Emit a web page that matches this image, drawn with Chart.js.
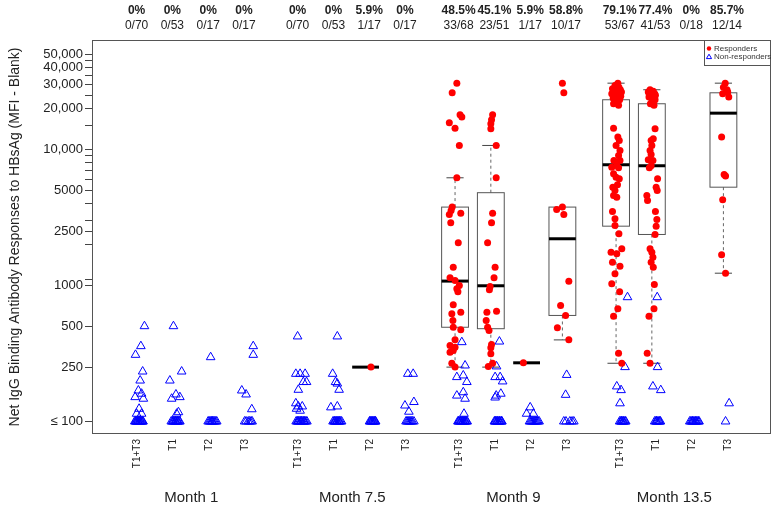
<!DOCTYPE html>
<html>
<head>
<meta charset="utf-8">
<title>Net IgG binding antibody responses to HBsAg</title>
<script src="https://cdn.jsdelivr.net/npm/chart.js"></script>
<style>
  html, body { margin: 0; padding: 0; background: #fff; }
  canvas { display: block; }
</style>
</head>
<body>
<canvas id="chart" width="777" height="512"></canvas>
<script>
// groups: 4 visits x 4 treatment arms
const months = ["Month 1", "Month 7.5", "Month 9", "Month 13.5"];
const categories = ["T1+T3", "T1", "T2", "T3"];

const pctLabels = ["0%", "0%", "0%", "0%", "0%", "0%", "5.9%", "0%",
  "48.5%", "45.1%", "5.9%", "58.8%", "79.1%", "77.4%", "0%", "85.7%"];
const fracLabels = ["0/70", "0/53", "0/17", "0/17", "0/70", "0/53", "1/17", "0/17",
  "33/68", "23/51", "1/17", "10/17", "53/67", "41/53", "0/18", "12/14"];

const yTicks = [100, 250, 500, 1000, 2500, 5000, 10000, 20000, 30000, 40000, 50000];
const yTickLabels = ["\u2264 100", "250", "500", "1000", "2500", "5000",
  "10,000", "20,000", "30,000", "40,000", "50,000"];
const yMinorTicks = [1100, 2000, 3000, 4000, 6000, 7000, 8000, 9000, 15000, 25000, 35000, 45000];

// responders (MFI values) and their horizontal jitter (category units)
const resp_m75_t2 = [251];
const jit_resp_m75_t2 = [0.15];

const resp_m9_t13 = [30700, 26100, 17990, 17300, 15710, 14350, 10700, 6190, 3770, 3560, 3400,
  3330, 2890, 2060, 1364, 1140, 1088, 1000, 946, 900, 721, 636, 619, 553, 494, 472, 399,
  362, 352, 333, 323, 268, 251];
const jit_resp_m9_t13 = [0.05, -0.08, 0.14, 0.19, -0.16, 0, 0.12, 0.05, -0.08, -0.11, 0.16,
  -0.16, -0.12, 0.09, -0.05, -0.14, 0, 0.12, 0.05, 0.08, -0.05, 0.16, -0.09, -0.06, -0.05, 0.16, 0,
  -0.14, 0, -0.05, -0.14, -0.09, 0];

const resp_m9_t1 = [17990, 16520, 15460, 14190, 10700, 6190, 3400, 2890, 2060, 1364, 1140,
  984, 930, 647, 636, 553, 494, 467, 368, 348, 315, 268, 254];
const jit_resp_m9_t1 = [0.05, 0.02, 0, 0, 0.15, 0.15, 0.05, 0.02, -0.09, 0.12, 0.09,
  -0.02, -0.04, 0.16, -0.11, -0.13, -0.09, -0.05, 0.02, 0, 0, 0.05, -0.07];

const resp_m9_t2 = [270];
const jit_resp_m9_t2 = [-0.09];

const resp_m9_t3 = [30700, 26100, 3770, 3620, 3330, 1076, 713, 602, 489, 399];
const jit_resp_m9_t3 = [0, 0.04, 0, -0.16, 0.04, 0.18, -0.05, 0.09, -0.14, 0.18];

const resp_m135_t13 = [30720, 29500, 28700, 28000, 27500, 27000, 26400, 25700, 25200, 25000,
  24600, 24300, 23800, 23200, 22800, 22300, 21700, 21100,
  14340, 12330, 11650, 10700, 9840, 9040, 8300, 8300, 7630, 7410, 7330, 6630, 6260, 6090,
  5500, 5280, 5000, 4590, 4460, 3500, 3093, 2762, 2398, 1862, 1758, 1710, 1484, 1387, 1219,
  1029, 900, 674, 594, 318, 268];
const jit_resp_m135_t13 = [0.05, -0.03, 0.08, -0.10, 0.12, 0, 0.15, -0.12, 0.09, -0.02,
  0.13, 0.06, -0.08, 0.10, -0.04, 0.02, -0.07, 0.07,
  -0.07, 0.05, 0.09, 0, 0.11, 0.07, -0.06, 0.11, 0.02, -0.12, 0.07, -0.07, 0, 0.09,
  0.04, -0.09, -0.03, -0.07, 0.02, -0.10, -0.03, -0.03, 0.08, 0.16, -0.14, 0.02, -0.10, 0.11, -0.03,
  -0.12, 0.10, 0.05, -0.07, 0.07, 0.16];

const resp_m135_t1 = [27480, 26800, 26400, 25700, 25300, 25000, 24300, 24000, 23600, 23200,
  21680, 21100,
  14190, 11990, 11650, 10700, 9840, 9190, 8400, 8300, 7590, 7330, 6090, 5280, 5000, 4590,
  4220, 3500, 3056, 2729, 2371, 1862, 1758, 1615, 1484, 1364, 1017, 674, 594, 318, 268];
const jit_resp_m135_t1 = [-0.05, 0.04, -0.10, 0.08, -0.02, 0.10, -0.08, 0.05, 0, 0.09,
  -0.04, 0.06,
  0.09, 0.04, -0.02, 0, -0.05, -0.02, -0.10, 0.03, -0.02, -0.07, 0.16, 0.12, 0.15, -0.14,
  -0.12, 0.10, 0.14, 0.12, 0.09, -0.05, 0, 0.03, -0.02, 0.04, 0.07, 0.06, -0.08, -0.13, -0.05];

const resp_m135_t3 = [30720, 28700, 27500, 26400, 25700, 24300, 12330, 6550, 6380, 4270, 1681, 1231];
const jit_resp_m135_t3 = [0.05, 0, 0.10, 0.12, -0.02, 0.15, -0.05, 0.02, 0.06, -0.02, -0.05, 0.06];

// non-responders (values <= 100 are shown at 100)
const non_m1_t13 = [502, 358, 309, 233, 200, 169, 160, 151, 147, 124, 114, 114,
  100, 100, 100, 100, 100, 100, 100, 100, 100, 100, 100, 100, 100, 100];
const jit_non_m1_t13 = [0.32, 0.22, 0.07, 0.27, 0.20, 0.15, 0.24, 0.06, 0.29, 0.17, 0.10, 0.24,
  0.05, 0.09, 0.12, 0.16, 0.19, 0.23, 0.27, 0.07, 0.14, 0.21, 0.25, 0.28, 0.10, 0.18];

const non_m1_t1 = [502, 233, 200, 158, 151, 147, 117, 114,
  100, 100, 100, 100, 100, 100, 100, 100, 100, 100, 100, 100];
const jit_non_m1_t1 = [0.13, 0.36, 0.03, 0.20, 0.31, 0.08, 0.27, 0.22,
  0.07, 0.10, 0.14, 0.17, 0.20, 0.23, 0.26, 0.29, 0.31, 0.12, 0.19, 0.25];

const non_m1_t2 = [297, 100, 100, 100, 100, 100, 100, 100, 100, 100, 100];
const jit_non_m1_t2 = [0.17, 0.10, 0.13, 0.16, 0.19, 0.22, 0.25, 0.28, 0.31, 0.34, 0.21];

const non_m1_t3 = [358, 309, 169, 158, 123, 100, 100, 100, 100, 100, 100];
const jit_non_m1_t3 = [0.36, 0.36, 0.04, 0.16, 0.32, 0.12, 0.16, 0.22, 0.26, 0.30, 0.33];

const non_m75_t13 = [422, 224, 224, 224, 195, 195, 171, 136, 129, 129, 124, 120,
  100, 100, 100, 100, 100, 100, 100, 100, 100, 100, 100, 100, 100, 100];
const jit_non_m75_t13 = [0.10, 0.05, 0.17, 0.31, 0.26, 0.35, 0.12, 0.05, 0.12, 0.23, 0.07, 0.17,
  0.06, 0.09, 0.12, 0.15, 0.18, 0.21, 0.24, 0.27, 0.30, 0.33, 0.36, 0.11, 0.20, 0.28];

const non_m75_t1 = [422, 224, 195, 190, 171, 129, 127,
  100, 100, 100, 100, 100, 100, 100, 100, 100, 100, 100, 100];
const jit_non_m75_t1 = [0.21, 0.08, 0.16, 0.21, 0.26, 0.21, 0.03,
  0.09, 0.12, 0.15, 0.18, 0.21, 0.24, 0.27, 0.30, 0.33, 0.14, 0.20, 0.26];

const non_m75_t2 = [100, 100, 100, 100, 100, 100, 100, 100, 100, 100];
const jit_non_m75_t2 = [0.11, 0.13, 0.15, 0.17, 0.19, 0.21, 0.23, 0.25, 0.27, 0.28];

const non_m75_t3 = [224, 224, 139, 131, 118, 100, 100, 100, 100, 100, 100, 100, 100];
const jit_non_m75_t3 = [0.18, 0.33, 0.35, 0.10, 0.21, 0.13, 0.16, 0.19, 0.22, 0.25, 0.28, 0.31, 0.35];

const non_m9_t13 = [383, 258, 218, 212, 195, 164, 155, 147, 114,
  100, 100, 100, 100, 100, 100, 100, 100, 100, 100, 100, 100, 100, 100];
const jit_non_m9_t13 = [0.19, 0.28, 0.23, 0.05, 0.33, 0.23, 0.05, 0.28, 0.25,
  0.08, 0.11, 0.14, 0.17, 0.20, 0.23, 0.26, 0.29, 0.32, 0.10, 0.16, 0.22, 0.28, 0.34];

const non_m9_t1 = [387, 254, 212, 212, 197, 160, 155, 150,
  100, 100, 100, 100, 100, 100, 100, 100, 100, 100, 100, 100];
const jit_non_m9_t1 = [0.24, 0.16, 0.12, 0.26, 0.33, 0.28, 0.15, 0.12,
  0.10, 0.13, 0.16, 0.19, 0.22, 0.25, 0.28, 0.31, 0.12, 0.18, 0.24, 0.30];

const non_m9_t2 = [127, 114, 114, 100, 100, 100, 100, 100, 100, 100, 100, 100, 100];
const jit_non_m9_t2 = [0.10, 0, 0.19, 0.08, 0.11, 0.14, 0.17, 0.20, 0.23, 0.26, 0.29, 0.32, 0.35];

const non_m9_t3 = [220, 157, 100, 100, 100, 100, 100];
const jit_non_m9_t3 = [0.12, 0.09, 0.04, 0.10, 0.21, 0.27, 0.32];

const non_m135_t13 = [820, 251, 181, 170, 136, 100, 100, 100, 100, 100, 100, 100, 100, 100];
const jit_non_m135_t13 = [0.32, 0.25, 0.02, 0.14, 0.11, 0.10, 0.13, 0.16, 0.19, 0.22, 0.25, 0.27, 0.15, 0.20];

const non_m135_t1 = [820, 251, 181, 170, 100, 100, 100, 100, 100, 100, 100, 100];
const jit_non_m135_t1 = [0.15, 0.16, 0.03, 0.25, 0.08, 0.11, 0.14, 0.17, 0.20, 0.22, 0.24, 0.13];

const non_m135_t2 = [100, 100, 100, 100, 100, 100, 100, 100, 100, 100, 100, 100];
const jit_non_m135_t2 = [0.06, 0.09, 0.12, 0.15, 0.18, 0.21, 0.24, 0.27, 0.30, 0.32, 0.14, 0.23];

const non_m135_t3 = [136, 100];
const jit_non_m135_t3 = [0.16, 0.06];

// box plot summaries of responders
const boxMonth = [1, 2, 2, 2, 2, 3, 3, 3];
const boxCat = [2, 0, 1, 2, 3, 0, 1, 3];
const boxLow = [251, 251, 251, 270, 398, 268, 268, 1231];
const boxQ1 = [251, 493, 481, 270, 602, 2729, 2371, 5280];
const boxMed = [251, 1077, 995, 270, 2205, 7720, 7590, 18490];
const boxQ3 = [251, 3770, 4810, 270, 3770, 23200, 21680, 26100];
const boxHigh = [251, 6190, 10700, 270, 3770, 30720, 27480, 30720];

// ---------------------------------------------------------------
const catPos = (m, c) => m * 4.5 + c;

const respGroups = [
  { m: 1, c: 2, v: resp_m75_t2, j: jit_resp_m75_t2 },
  { m: 2, c: 0, v: resp_m9_t13, j: jit_resp_m9_t13 },
  { m: 2, c: 1, v: resp_m9_t1, j: jit_resp_m9_t1 },
  { m: 2, c: 2, v: resp_m9_t2, j: jit_resp_m9_t2 },
  { m: 2, c: 3, v: resp_m9_t3, j: jit_resp_m9_t3 },
  { m: 3, c: 0, v: resp_m135_t13, j: jit_resp_m135_t13 },
  { m: 3, c: 1, v: resp_m135_t1, j: jit_resp_m135_t1 },
  { m: 3, c: 3, v: resp_m135_t3, j: jit_resp_m135_t3 },
];
const nonGroups = [
  { m: 0, c: 0, v: non_m1_t13, j: jit_non_m1_t13 },
  { m: 0, c: 1, v: non_m1_t1, j: jit_non_m1_t1 },
  { m: 0, c: 2, v: non_m1_t2, j: jit_non_m1_t2 },
  { m: 0, c: 3, v: non_m1_t3, j: jit_non_m1_t3 },
  { m: 1, c: 0, v: non_m75_t13, j: jit_non_m75_t13 },
  { m: 1, c: 1, v: non_m75_t1, j: jit_non_m75_t1 },
  { m: 1, c: 2, v: non_m75_t2, j: jit_non_m75_t2 },
  { m: 1, c: 3, v: non_m75_t3, j: jit_non_m75_t3 },
  { m: 2, c: 0, v: non_m9_t13, j: jit_non_m9_t13 },
  { m: 2, c: 1, v: non_m9_t1, j: jit_non_m9_t1 },
  { m: 2, c: 2, v: non_m9_t2, j: jit_non_m9_t2 },
  { m: 2, c: 3, v: non_m9_t3, j: jit_non_m9_t3 },
  { m: 3, c: 0, v: non_m135_t13, j: jit_non_m135_t13 },
  { m: 3, c: 1, v: non_m135_t1, j: jit_non_m135_t1 },
  { m: 3, c: 2, v: non_m135_t2, j: jit_non_m135_t2 },
  { m: 3, c: 3, v: non_m135_t3, j: jit_non_m135_t3 },
];

const toPoints = (groups) =>
  groups.flatMap((g) => g.v.map((v, i) => ({ x: catPos(g.m, g.c) + g.j[i], y: v })));

// label columns sit slightly right of the box centres, as in the original figure
const topShift = 0.1;
const bottomShift = 0.13;
const catTicks = [];
months.forEach((_, m) => categories.forEach((_, c) => catTicks.push(catPos(m, c))));
const monthTicks = months.map((_, m) => catPos(m, 1.5) + bottomShift);

const sansFont = "'Liberation Sans', Arial, sans-serif";
const narrowFont = "'Liberation Sans Narrow', 'Liberation Sans', Arial, sans-serif";
Chart.defaults.font.family = sansFont;
Chart.defaults.color = "#222";

const xRange = { min: -1.146, max: 17.83 };

const hiddenGrid = { display: false, drawTicks: false };

function topAxis(labels, weight, font, padding, height) {
  return {
    type: "linear",
    position: "top",
    weight: weight,
    ...xRange,
    bounds: "data",
    grid: hiddenGrid,
    border: { display: false },
    afterBuildTicks: (s) => { s.ticks = catTicks.map((v) => ({ value: v + topShift })); },
    ticks: { autoSkip: false, maxRotation: 0, padding: padding, font: font, color: "#222",
      callback: (v, i) => labels[i] },
    afterFit: (s) => { s.height = height; },
  };
}

// box plots behind the points
const boxPlugin = {
  id: "boxes",
  beforeDatasetsDraw(chart) {
    const { ctx, scales: { x, y } } = chart;
    const line = (x1, y1, x2, y2) => {
      ctx.beginPath(); ctx.moveTo(x1, y1); ctx.lineTo(x2, y2); ctx.stroke();
    };
    ctx.save();
    boxMonth.forEach((m, i) => {
      const k = catPos(m, boxCat[i]);
      const cx = x.getPixelForValue(k);
      const hw = x.getPixelForValue(k + 0.375) - cx;
      const cw = x.getPixelForValue(k + 0.24) - cx;
      const yl = y.getPixelForValue(boxLow[i]);
      const y1 = y.getPixelForValue(boxQ1[i]);
      const ym = y.getPixelForValue(boxMed[i]);
      const y3 = y.getPixelForValue(boxQ3[i]);
      const yh = y.getPixelForValue(boxHigh[i]);
      ctx.lineWidth = 1;
      if (boxQ3[i] > boxQ1[i]) {
        ctx.strokeStyle = "#666";
        ctx.setLineDash([3, 3]);
        if (boxHigh[i] > boxQ3[i]) line(cx, y3, cx, yh);
        if (boxLow[i] < boxQ1[i]) line(cx, y1, cx, yl);
        ctx.setLineDash([]);
        ctx.strokeStyle = "#444";
        if (boxHigh[i] > boxQ3[i]) line(cx - cw, yh, cx + cw, yh);
        if (boxLow[i] < boxQ1[i]) line(cx - cw, yl, cx + cw, yl);
        ctx.strokeStyle = "#555";
        ctx.strokeRect(cx - hw, y3, hw * 2, y1 - y3);
      }
      ctx.strokeStyle = "#000";
      ctx.lineWidth = 3;
      line(cx - hw, ym, cx + hw, ym);
    });
    ctx.restore();
  },
};

// plot frame and legend box in the top right corner
const framePlugin = {
  id: "frame",
  afterDraw(chart) {
    const { ctx, chartArea: a } = chart;
    ctx.save();
    ctx.strokeStyle = "#555";
    ctx.lineWidth = 1;
    ctx.strokeRect(a.left + 0.5, a.top + 0.5, a.right - a.left - 1, a.bottom - a.top - 1);

    const w = 67, h = 25;
    const x0 = a.right - w, y0 = a.top;
    ctx.strokeRect(x0 + 0.5, y0 + 0.5, w - 1, h);
    ctx.font = "8px " + sansFont;
    ctx.textBaseline = "middle";
    ctx.fillStyle = "#333";
    ctx.fillText("Responders", x0 + 10, y0 + 8.5);
    ctx.fillText("Non-responders", x0 + 10, y0 + 17);
    ctx.fillStyle = "red";
    ctx.beginPath(); ctx.arc(x0 + 5, y0 + 8.5, 2.2, 0, Math.PI * 2); ctx.fill();
    ctx.strokeStyle = "blue";
    ctx.beginPath();
    ctx.moveTo(x0 + 5, y0 + 14.2);
    ctx.lineTo(x0 + 7.6, y0 + 18.6);
    ctx.lineTo(x0 + 2.4, y0 + 18.6);
    ctx.closePath(); ctx.stroke();
    ctx.restore();
  },
};

new Chart(document.getElementById("chart"), {
  type: "scatter",
  data: {
    datasets: [
      {
        label: "Responders",
        data: toPoints(respGroups),
        pointStyle: "circle",
        pointRadius: 3.5,
        backgroundColor: "red",
        borderColor: "red",
        borderWidth: 0,
      },
      {
        label: "Non-responders",
        data: toPoints(nonGroups),
        pointStyle: "triangle",
        pointRadius: 5,
        backgroundColor: "rgba(0,0,0,0)",
        borderColor: "blue",
        borderWidth: 1,
      },
    ],
  },
  options: {
    responsive: false,
    animation: false,
    layout: { padding: { left: 4, right: 6, top: 0, bottom: 0 } },
    plugins: { legend: { display: false }, tooltip: { enabled: false } },
    scales: {
      x: {
        type: "linear",
        position: "bottom",
        ...xRange,
        bounds: "data",
        grid: hiddenGrid,
        border: { display: false },
        afterBuildTicks: (s) => { s.ticks = catTicks.map((v) => ({ value: v + bottomShift })); },
        ticks: { autoSkip: false, minRotation: 90, maxRotation: 90, padding: 5,
          font: { size: 10, family: narrowFont }, color: "#222",
          callback: (v, i) => categories[i % 4] },
        afterFit: (s) => { s.height = 44; },
      },
      xm: {
        type: "linear",
        position: "bottom",
        weight: 1,
        ...xRange,
        bounds: "data",
        grid: hiddenGrid,
        border: { display: false },
        afterBuildTicks: (s) => { s.ticks = monthTicks.map((v) => ({ value: v })); },
        ticks: { autoSkip: false, maxRotation: 0, padding: 11,
          font: { size: 15, family: narrowFont }, color: "#222",
          callback: (v, i) => months[i] },
        afterFit: (s) => { s.height = 34; },
      },
      xp: topAxis(pctLabels, 1, { size: 12, weight: "bold" }, 1, 19),
      xf: topAxis(fracLabels, 0, { size: 12 }, 7, 21),
      y: {
        type: "logarithmic",
        min: 80.9,
        max: 63800,
        bounds: "data",
        afterBuildTicks: (s) => {
          s.ticks = [...yTicks, ...yMinorTicks].sort((a, b) => a - b).map((v) => ({ value: v }));
        },
        ticks: {
          autoSkip: false,
          padding: 2,
          font: { size: 13 },
          color: "#222",
          callback: (v) => {
            const i = yTicks.indexOf(v);
            return i >= 0 ? yTickLabels[i] : "";
          },
        },
        grid: { drawOnChartArea: false, drawTicks: true, tickLength: 7, color: "#444" },
        border: { display: false },
        title: {
          display: true,
          text: "Net IgG Binding Antibody Responses to HBsAg (MFI - Blank)",
          font: { size: 14 },
          color: "#222",
          padding: { top: 3, bottom: 0 },
        },
        afterFit: (s) => { s.width = 88; },
      },
    },
  },
  plugins: [boxPlugin, framePlugin],
});
</script>
</body>
</html>
